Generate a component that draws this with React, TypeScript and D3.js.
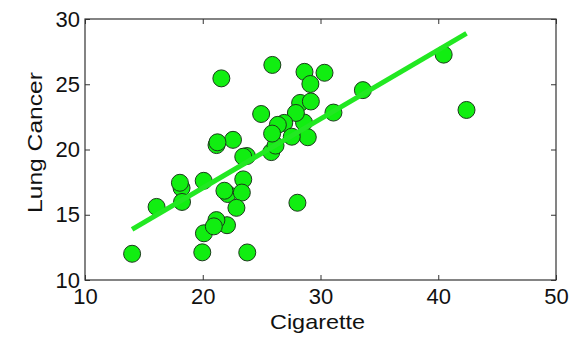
import * as d3 from 'd3'
import { useEffect, useRef } from 'react'

// cigarette sales per capita vs lung cancer deaths (per 100k), one point per state
const states = ['AL', 'AZ', 'AR', 'CA', 'CT', 'DE', 'DC', 'FL', 'ID', 'IL', 'IN', 'IO', 'KS', 'KY', 'LA', 'ME', 'MD', 'MA', 'MI', 'MN', 'MS', 'MO', 'MT', 'NB', 'NE', 'NJ', 'NM', 'NY', 'ND', 'OH', 'OK', 'PE', 'RI', 'SC', 'SD', 'TE', 'TX', 'UT', 'VT', 'WA', 'WI', 'WV', 'WY', 'AK']
const cigarette = [18.2, 25.82, 18.24, 28.6, 31.1, 33.6, 40.46, 28.27, 20.1, 27.91, 26.18, 22.12, 21.84, 23.44, 21.58, 28.92, 25.91, 26.92, 24.96, 22.06, 16.08, 27.56, 23.75, 23.32, 42.4, 28.64, 21.16, 29.14, 19.96, 26.38, 23.44, 23.78, 29.18, 18.06, 20.94, 20.08, 22.57, 14.0, 25.89, 21.17, 21.25, 22.86, 28.04, 30.34]
const lungCancer = [17.05, 19.8, 15.98, 22.07, 22.83, 24.55, 27.27, 23.57, 13.58, 22.8, 20.3, 16.59, 16.84, 17.71, 25.45, 20.94, 26.48, 22.04, 22.72, 14.2, 15.6, 20.98, 19.5, 16.7, 23.03, 25.95, 14.59, 25.02, 12.12, 21.89, 19.45, 12.11, 23.68, 17.45, 14.11, 17.6, 20.74, 12.01, 21.22, 20.34, 20.55, 15.53, 15.92, 25.88]
const xTicks = [10, 20, 30, 40, 50]
const yTicks = [10, 15, 20, 25, 30]

const width = 585
const height = 338
const margin = { top: 19, right: 29, bottom: 58, left: 85 }
const font = 'Arial, "Liberation Sans", sans-serif'

export default function App() {
  const gxRef = useRef<SVGGElement>(null)
  const gyRef = useRef<SVGGElement>(null)
  const gxTopRef = useRef<SVGGElement>(null)
  const gyRightRef = useRef<SVGGElement>(null)

  const x = d3.scaleLinear([10, 50], [margin.left, width - margin.right])
  const y = d3.scaleLinear([10, 30], [height - margin.bottom, margin.top])

  // least squares fit over the points
  const meanX = d3.mean(cigarette) as number
  const meanY = d3.mean(lungCancer) as number
  const sxy = d3.sum(cigarette, (c, i) => (c - meanX) * (lungCancer[i] - meanY))
  const sxx = d3.sum(cigarette, (c) => (c - meanX) ** 2)
  const slope = sxy / sxx
  const intercept = meanY - slope * meanX
  const extent = d3.extent(cigarette) as number[]
  const fit = d3.line<number>((c) => x(c), (c) => y(intercept + slope * c))(extent) || undefined

  useEffect(() => {
    const style = (g: d3.Selection<SVGGElement, unknown, null, undefined>) => {
      g.select('.domain').remove()
      g.selectAll('line').attr('stroke', '#333')
      g.selectAll('text').attr('fill', '#111').style('font-family', font).style('font-size', '22px')
    }
    if (gxRef.current) {
      d3.select(gxRef.current).call(d3.axisBottom(x).tickValues(xTicks).tickSize(-5).tickPadding(8)).call(style)
    }
    if (gyRef.current) {
      d3.select(gyRef.current).call(d3.axisLeft(y).tickValues(yTicks).tickSize(-5).tickPadding(5)).call(style)
    }
    if (gxTopRef.current) {
      d3.select(gxTopRef.current).call(d3.axisTop(x).tickValues(xTicks).tickSize(-5).tickFormat(() => '')).call(style)
    }
    if (gyRightRef.current) {
      d3.select(gyRightRef.current).call(d3.axisRight(y).tickValues(yTicks).tickSize(-5).tickFormat(() => '')).call(style)
    }
  }, [x, y])

  return (
    <svg width={width} height={height} style={{ position: 'absolute', left: 0, top: 0, background: '#fff' }}>
      <rect x={margin.left} y={margin.top} width={width - margin.left - margin.right} height={height - margin.top - margin.bottom} fill="#fff" stroke="#333" strokeWidth={1.2} />
      <g ref={gxRef} transform={`translate(0,${height - margin.bottom})`} />
      <g ref={gyRef} transform={`translate(${margin.left},0)`} />
      <g ref={gxTopRef} transform={`translate(0,${margin.top})`} />
      <g ref={gyRightRef} transform={`translate(${width - margin.right},0)`} />
      <g fill="#11ee11" stroke="#1c3a1c" strokeWidth={1}>
        {states.map((s, i) => (
          <circle key={s} cx={x(cigarette[i])} cy={y(lungCancer[i])} r={8.5} />
        ))}
      </g>
      <path d={fit} fill="none" stroke="#22e822" strokeWidth={5} />
      <text x={317.5} y={329} textAnchor="middle" fontFamily={font} fontSize={21} fill="#111" textLength={95} lengthAdjust="spacingAndGlyphs">Cigarette</text>
      <text transform="translate(42,142.5) rotate(-90)" textAnchor="middle" fontFamily={font} fontSize={21} fill="#111" textLength={141} lengthAdjust="spacingAndGlyphs">Lung Cancer</text>
    </svg>
  )
}
